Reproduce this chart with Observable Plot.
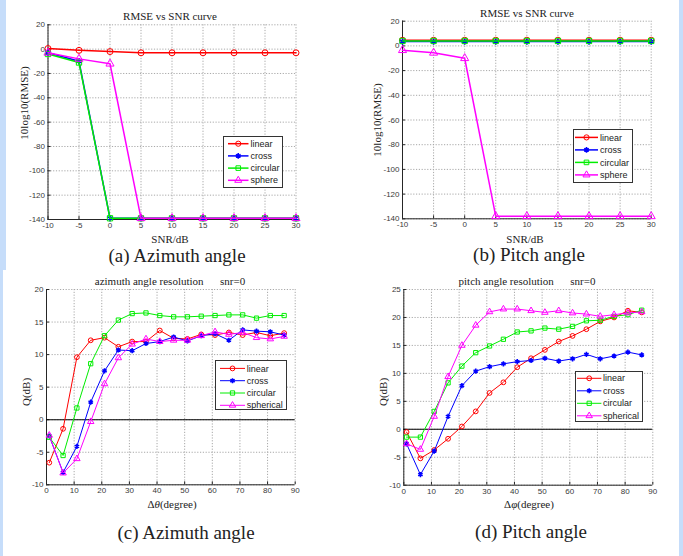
<!DOCTYPE html>
<html><head><meta charset="utf-8">
<script src="https://cdn.jsdelivr.net/npm/d3@7"></script>
<script src="https://cdn.jsdelivr.net/npm/@observablehq/plot@0.6"></script>
<style>
body{margin:0;background:#c6ddfa;}
#root{position:relative;width:683px;height:556px;overflow:hidden;}
.w{position:absolute;background:#fff;}
.t{position:absolute;transform:translate(-50%,-50%);white-space:pre;font-family:"Liberation Serif","Times New Roman",serif;color:#222;line-height:1;}
.p{position:absolute;}
.leg{position:absolute;background:#fff;border:1px solid #333;box-sizing:border-box;}
</style></head><body><div id="root"></div>
<script>
// ---------- data ----------
const snr = [-10, -5, 0, 5, 10, 15, 20, 25, 30];
const snrTicks = [-10, -5, 0, 5, 10, 15, 20, 25, 30];
const rmseTicks = [-140, -120, -100, -80, -60, -40, -20, 0, 20];

const azLinear   = [0.5, -1, -2, -3, -3, -3, -3, -3, -3];
const azCross    = [-3, -10, -139, -139, -139, -139, -139, -139, -139];
const azCircular = [-4, -11, -139, -139, -139, -139, -139, -139, -139];
const azSphere   = [-3, -8, -12, -139, -139, -139, -139, -139, -139];

const piLinear   = [4.6, 4.6, 4.6, 4.6, 4.6, 4.6, 4.6, 4.6, 4.6];
const piCross    = [3.5, 3.5, 3.5, 3.5, 3.5, 3.5, 3.5, 3.5, 3.5];
const piCircular = [4.0, 4.0, 4.0, 4.0, 4.0, 4.0, 4.0, 4.0, 4.0];
const piSphere   = [-3.5, -5.6, -10, -138, -138, -138, -138, -138, -138];

const dAngle = [1, 6, 11, 16, 21, 26, 31, 36, 41, 46, 51, 56, 61, 66, 71, 76, 81, 86];
const angTicks = [0, 10, 20, 30, 40, 50, 60, 70, 80, 90];
const qTicksC = [-10, -5, 0, 5, 10, 15, 20];
const qTicksD = [-10, -5, 0, 5, 10, 15, 20, 25];

const resAzLinear   = [-6.6, -1.4, 9.6, 12.2, 12.6, 11.2, 12.0, 12.0, 13.7, 12.5, 12.4, 13.1, 13.0, 13.4, 13.0, 13.4, 12.9, 13.3];
const resAzCross    = [-2.5, -8.1, -4.1, 2.7, 7.5, 10.7, 10.6, 11.7, 12.0, 12.7, 12.1, 12.9, 13.2, 12.2, 13.8, 13.6, 13.5, 13.0];
const resAzCircular = [-2.7, -5.5, 1.8, 8.6, 12.9, 15.3, 16.3, 16.4, 16.0, 15.8, 15.8, 15.9, 16.0, 16.1, 16.1, 15.6, 16.0, 16.0];
const resAzSpher    = [-2.4, -8.2, -6.0, -0.3, 5.5, 9.5, 11.6, 12.4, 12.0, 12.2, 12.2, 12.9, 13.5, 13.1, 13.4, 12.6, 12.4, 12.8];

const resPiLinear   = [-0.5, -5.2, -3.7, -1.7, 0.5, 3.2, 6.5, 8.4, 11.1, 12.7, 14.2, 15.7, 16.7, 17.9, 19.3, 20.0, 21.2, 20.9];
const resPiCross    = [-2.6, -8.1, -3.9, 2.3, 7.8, 10.4, 11.2, 11.7, 12.1, 12.3, 12.7, 12.2, 12.6, 13.4, 12.6, 13.1, 13.8, 13.3];
const resPiCircular = [-1.4, -1.4, 3.2, 8.3, 11.3, 13.7, 14.9, 16.1, 17.4, 17.6, 18.1, 17.9, 18.4, 19.4, 19.5, 20.2, 20.5, 21.3];
const resPiSpher    = [-2.6, -3.6, 2.3, 9.4, 15.0, 18.6, 21.0, 21.5, 21.5, 21.2, 20.9, 21.2, 20.8, 20.6, 20.2, 20.5, 20.8, 21.0];

const names4a = ["linear", "cross", "circular", "sphere"];
const names4c = ["linear", "cross", "circular", "spherical"];
const colors = ["#ff0000", "#0000ff", "#00ee00", "#ff00ff"];
const symbols = ["circle", "asterisk", "square", "triangle"];

// ---------- helpers ----------
const root = document.getElementById("root");
function box(cls, css) { const d = document.createElement("div"); d.className = cls; Object.assign(d.style, css); root.appendChild(d); return d; }
box("w", {left: "6px", top: "0px", width: "673px", height: "270px"});
box("w", {left: "3px", top: "270px", width: "676px", height: "286px"});

function text(html, x, y, size, rotate) {
  const d = box("t", {left: x + "px", top: y + "px", fontSize: size + "px"});
  d.innerHTML = html;
  if (rotate) d.style.transform = "translate(-50%,-50%) rotate(-90deg)";
  return d;
}

function panel(o) {
  const marks = [
    Plot.gridX(o.xTicks, {stroke: "#a8a8a8", strokeOpacity: 1, strokeDasharray: "1.2,1.6"}),
    Plot.gridY(o.yTicks, {stroke: "#a8a8a8", strokeOpacity: 1, strokeDasharray: "1.2,1.6"}),
    Plot.ruleX([o.xDomain[0]], {stroke: "#262626"}),
    Plot.ruleY([o.yDomain[0]], {stroke: "#262626"}),
    Plot.axisX(o.xTicks, {tickSize: -3, tickPadding: 6, tickFormat: d => String(d), label: null, stroke: "#262626"}),
    Plot.axisY(o.yTicks, {tickSize: -3, tickPadding: 6, tickFormat: d => String(d), label: null, stroke: "#262626"})
  ];
  if (o.zero) marks.push(Plot.ruleY([0], {stroke: "#000", strokeWidth: 1.1}));
  o.series.forEach((s, i) => {
    const rows = o.x.map((v, k) => ({x: v, y: s[k]}));
    marks.push(Plot.line(rows, {x: "x", y: "y", stroke: colors[i], strokeWidth: o.sw}));
    marks.push(Plot.dot(rows, {x: "x", y: "y", symbol: symbols[i], stroke: colors[i], fill: "none", r: o.r, strokeWidth: symbols[i] === "asterisk" ? 1.6 : 1}));
  });
  const svg = Plot.plot({
    width: o.width, height: o.height,
    marginLeft: o.mL, marginRight: o.mR, marginTop: o.mT, marginBottom: o.mB,
    style: {fontFamily: "'Liberation Sans', Arial, sans-serif", fontSize: "8px", color: "#3a3a3a", background: "transparent", overflow: "visible"},
    x: {domain: o.xDomain}, y: {domain: o.yDomain},
    marks
  });
  const d = box("p", {left: o.left + "px", top: o.top + "px"});
  d.appendChild(svg);
}

function legend(o) {
  const d = box("leg", {left: o.x + "px", top: o.y + "px", width: o.w + "px", height: o.h + "px"});
  const svg = d3.create("svg").attr("width", o.w).attr("height", o.h).style("position", "absolute").style("left", "-1px").style("top", "-1px");
  o.names.forEach((n, i) => {
    const yy = o.y0 + i * o.dy;
    svg.append("line").attr("x1", o.lx0).attr("x2", o.lx1).attr("y1", yy).attr("y2", yy).attr("stroke", colors[i]).attr("stroke-width", o.sw);
    const typ = {circle: d3.symbolCircle, asterisk: d3.symbolAsterisk, square: d3.symbolSquare, triangle: d3.symbolTriangle}[symbols[i]];
    svg.append("path").attr("d", d3.symbol(typ, Math.PI * o.r * o.r)()).attr("transform", `translate(${(o.lx0 + o.lx1) / 2},${yy})`)
      .attr("fill", "none").attr("stroke", colors[i]).attr("stroke-width", symbols[i] === "asterisk" ? 1.6 : 1);
    svg.append("text").attr("x", o.tx).attr("y", yy).attr("dy", "0.35em").text(n)
      .style("font-family", "'Liberation Sans', Arial, sans-serif").style("font-size", "9px").attr("fill", "#222");
  });
  d.appendChild(svg.node());
}

// ---------- (a) ----------
panel({left: 0, top: 0, width: 340, height: 245, mL: 47.5, mR: 44.5, mT: 24.3, mB: 26,
  x: snr, xDomain: [-10, 30], xTicks: snrTicks, yDomain: [-140, 20], yTicks: rmseTicks,
  series: [azLinear, azCross, azCircular, azSphere], sw: 1.5, r: 3});
text("RMSE vs SNR curve", 170, 16, 11);
text("10log10(RMSE)", 24, 103, 11, true);
text("SNR/dB", 170, 239, 11);
text("(a) Azimuth angle", 177, 255, 19);
legend({x: 222.5, y: 136, w: 60.5, h: 52, names: names4a, y0: 7.7, dy: 12.2, lx0: 5, lx1: 25.5, tx: 27.5, sw: 1.5, r: 2.6});

// ---------- (b) ----------
panel({left: 340, top: 0, width: 343, height: 245, mL: 62, mR: 32.3, mT: 20.7, mB: 26.7,
  x: snr, xDomain: [-10, 30], xTicks: snrTicks, yDomain: [-140, 20], yTicks: rmseTicks,
  series: [piLinear, piCross, piCircular, piSphere], sw: 1.5, r: 3});
text("RMSE vs SNR curve", 527, 12.7, 11);
text("10log10(RMSE)", 377, 120, 11, true);
text("SNR/dB", 525, 239, 11);
text("(b) Pitch angle", 529, 254, 19);
legend({x: 573.3, y: 129.3, w: 59.5, h: 53.5, names: names4a, y0: 8.4, dy: 12.5, lx0: 2, lx1: 25, tx: 27, sw: 1.5, r: 2.6});

// ---------- (c) ----------
panel({left: 0, top: 270, width: 340, height: 240, mL: 46, mR: 45.3, mT: 19, mB: 25.7,
  x: dAngle, xDomain: [0, 90], xTicks: angTicks, yDomain: [-10, 20], yTicks: qTicksC,
  series: [resAzLinear, resAzCross, resAzCircular, resAzSpher], sw: 1, r: 2.4, zero: true});
text("azimuth angle resolution      snr=0", 170, 280.7, 11);
text("Q(dB)", 26, 392, 11, true);
text("Δ<i>θ</i>(degree)", 172, 504, 11);
text("(c) Azimuth angle", 186, 532, 19);
legend({x: 215, y: 360.3, w: 72.3, h: 49.7, names: names4c, y0: 8.4, dy: 12.3, lx0: 5, lx1: 30, tx: 31.7, sw: 1, r: 2.4});

// ---------- (d) ----------
panel({left: 340, top: 270, width: 343, height: 240, mL: 63.3, mR: 30.7, mT: 19, mB: 25.3,
  x: dAngle, xDomain: [0, 90], xTicks: angTicks, yDomain: [-10, 25], yTicks: qTicksD,
  series: [resPiLinear, resPiCross, resPiCircular, resPiSpher], sw: 1, r: 2.4, zero: true});
text("pitch angle resolution      snr=0", 527, 280.7, 11);
text("Q(dB)", 383, 392, 11, true);
text("Δ<i>φ</i>(degree)", 529, 504, 11);
text("(d) Pitch angle", 531, 531, 19);
legend({x: 575.3, y: 371, w: 67.4, h: 51.3, names: names4c, y0: 7.3, dy: 12.5, lx0: 2, lx1: 26.4, tx: 28, sw: 1, r: 2.4});
</script></body></html>
